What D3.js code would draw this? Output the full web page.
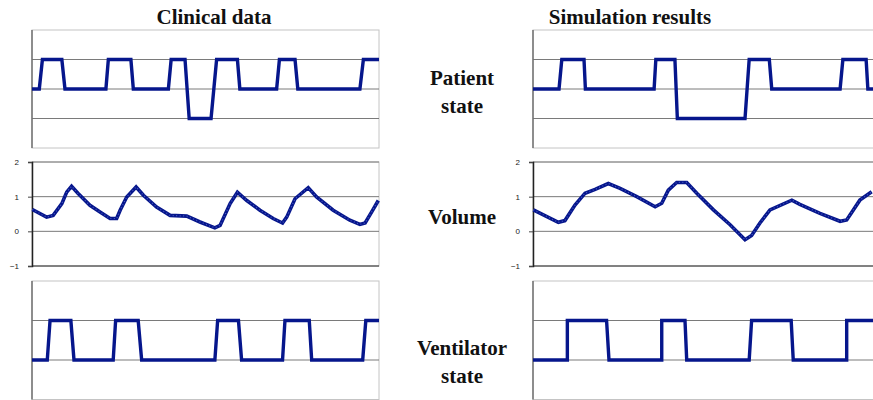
<!DOCTYPE html>
<html>
<head>
<meta charset="utf-8">
<script src="https://cdn.jsdelivr.net/npm/d3@7"></script>
<style>
    body { margin: 0; background: #fff; }
    svg { display: block; }
    .lbl { font-family: "Liberation Serif", "DejaVu Serif", "Times New Roman", serif; }
</style>
</head>
<body>
<script>
// [time, value] pairs, time 0..100 across each panel
const clinicalPatient = [[0, 0], [2.1, 0], [3.0, 1], [8.6, 1], [9.5, 0], [21.3, 0], [22.0, 1], [28.5, 1], [29.2, 0],
    [39.3, 0], [40.1, 1], [44.1, 1], [45.3, -1], [51.6, -1], [53.2, 1], [59.2, 1], [59.9, 0], [70.5, 0], [71.3, 1],
    [75.8, 1], [76.6, 0], [94.5, 0], [95.5, 1], [100, 1]];
const simPatient = [[0, 0], [7.5, 0], [8.3, 1], [14.7, 1], [15.1, 0], [34.9, 0], [35.4, 1], [40.9, 1], [41.6, -1],
    [61.1, -1], [62.3, 1], [68.1, 1], [68.8, 0], [88.5, 0], [89.3, 1], [96.0, 1], [96.5, 0], [100, 0]];

const clinicalVolume = [[0.1, 0.63], [4.2, 0.41], [6.1, 0.46], [8.6, 0.80], [10.0, 1.13], [11.4, 1.30], [13.3, 1.09],
    [16.7, 0.75], [19.6, 0.56], [22.5, 0.37], [24.4, 0.37], [25.4, 0.61], [27.3, 0.99], [30.0, 1.28], [32.1, 1.04],
    [35.9, 0.70], [39.8, 0.46], [44.6, 0.44], [48.4, 0.27], [52.7, 0.10], [54.2, 0.17], [57.1, 0.80], [59.2, 1.13],
    [61.9, 0.89], [65.7, 0.61], [69.5, 0.37], [72.2, 0.24], [73.4, 0.41], [75.8, 0.94], [79.6, 1.26], [82.0, 0.99],
    [86.8, 0.61], [91.6, 0.32], [94.5, 0.20], [96.0, 0.24], [97.9, 0.56], [99.8, 0.89]];
const simVolume = [[0.1, 0.62], [7.3, 0.26], [9.2, 0.31], [12.1, 0.76], [15.0, 1.10], [17.9, 1.21], [21.7, 1.38],
    [25.1, 1.24], [29.9, 1.0], [35.2, 0.71], [37.1, 0.81], [39.0, 1.19], [41.4, 1.41], [44.3, 1.41], [47.2, 1.10],
    [52.0, 0.62], [56.8, 0.19], [61.1, -0.24], [63.0, -0.12], [65.4, 0.24], [68.3, 0.62], [74.6, 0.90], [76.9, 0.78],
    [82.7, 0.52], [88.5, 0.29], [90.4, 0.33], [94.2, 0.90], [97.6, 1.14]];

const clinicalVent = [[0, 0], [4.4, 0], [5.2, 1], [11.2, 1], [12.1, 0], [23.4, 0], [24.1, 1], [30.6, 1], [31.6, 0],
    [52.7, 0], [53.5, 1], [59.5, 1], [60.4, 0], [72.2, 0], [72.9, 1], [79.9, 1], [80.6, 0], [95.3, 0], [96.2, 1], [100, 1]];
const simVent = [[0, 0], [9.9, 0], [9.9, 1], [21.2, 1], [21.9, 0], [37.1, 0], [37.1, 1], [43.8, 1], [44.3, 0],
    [62.3, 0], [63.0, 1], [74.4, 1], [75.0, 0], [90.4, 0], [90.4, 1], [100, 1]];

const columnTitles = ["Clinical data", "Simulation results"];
const rowLabels = [["Patient", "state"], ["Volume"], ["Ventilator", "state"]];
const volumeTicks = [-1, 0, 1, 2];

const width = 873, height = 400;
const lineColor = "#06168c";

const svg = d3.select("body").append("svg")
    .attr("width", width)
    .attr("height", height);

const cols = [[32, 379], [533, 880]];
const rows = [
    { domain: [-2, 2], range: [148, 30], grid: [1, 0, -1], data: [clinicalPatient, simPatient], width: 3.4 },
    { domain: [-1, 2], range: [266, 162], grid: [2, 1, 0], data: [clinicalVolume, simVolume], width: 3.6, axis: true },
    { domain: [-1, 2], range: [399.5, 281], grid: [1, 0], data: [clinicalVent, simVent], width: 3.4 }
];

function Panel(xRange, row, series) {
    const x = d3.scaleLinear().domain([0, 100]).range(xRange);
    const y = d3.scaleLinear().domain(row.domain).range(row.range);
    const g = svg.append("g");

    // frame
    g.append("rect")
        .attr("x", xRange[0])
        .attr("y", row.range[1])
        .attr("width", xRange[1] - xRange[0])
        .attr("height", row.range[0] - row.range[1])
        .attr("fill", "none")
        .attr("stroke", "#c4c4c4")
        .attr("stroke-width", 1);

    g.append("g")
        .selectAll("line")
        .data(row.grid)
        .join("line")
        .attr("x1", xRange[0])
        .attr("x2", xRange[1])
        .attr("y1", d => y(d))
        .attr("y2", d => y(d))
        .attr("stroke", "#7a7a7a")
        .attr("stroke-width", 1);

    if (row.axis) {
        g.append("line")
            .attr("x1", xRange[0]).attr("x2", xRange[1])
            .attr("y1", y(-1)).attr("y2", y(-1))
            .attr("stroke", "#222")
            .attr("stroke-width", 1.2);
        const ax = g.append("g")
            .attr("transform", `translate(${xRange[0]},0)`)
            .call(d3.axisLeft(y).tickValues(volumeTicks).tickSize(4).tickPadding(9).tickFormat(d3.format("d")));
        ax.select(".domain").attr("stroke", "#222").attr("stroke-width", 1.5);
        ax.selectAll(".tick line").attr("stroke", "#444");
        ax.selectAll("text")
            .attr("font-family", "'Liberation Sans', Arial, sans-serif")
            .attr("font-size", 8)
            .attr("fill", "#222");
    } else {
        g.append("line")
            .attr("x1", xRange[0]).attr("x2", xRange[0])
            .attr("y1", row.range[1]).attr("y2", row.range[0])
            .attr("stroke", "#707070")
            .attr("stroke-width", 1.5);
    }

    const line = d3.line()
        .x(d => x(d[0]))
        .y(d => y(d[1]));

    g.append("path")
        .datum(series)
        .attr("d", line)
        .attr("fill", "none")
        .attr("stroke", lineColor)
        .attr("stroke-width", row.width)
        .attr("stroke-linejoin", "miter");

    if (row.axis) {
        // speckled texture of the marker line
        g.append("path")
            .datum(series)
            .attr("d", line)
            .attr("fill", "none")
            .attr("stroke", "#4a5cc4")
            .attr("stroke-width", 1.2)
            .attr("stroke-dasharray", "1,2.5");
    }
}

rows.forEach(row => {
    cols.forEach((c, i) => Panel(c, row, row.data[i]));
});

// titles
svg.append("g")
    .selectAll("text")
    .data(columnTitles)
    .join("text")
    .attr("class", "lbl")
    .attr("x", (d, i) => [214, 630][i])
    .attr("y", 24)
    .attr("text-anchor", "middle")
    .attr("font-weight", "bold")
    .attr("font-size", 21)
    .attr("fill", "#111")
    .text(d => d);

const labelY = [85, 224, 355];
rowLabels.forEach((lines, r) => {
    svg.append("text")
        .attr("class", "lbl")
        .attr("x", 462)
        .attr("y", labelY[r])
        .attr("text-anchor", "middle")
        .attr("font-weight", "bold")
        .attr("font-size", 21)
        .attr("fill", "#111")
        .selectAll("tspan")
        .data(lines)
        .join("tspan")
        .attr("x", 462)
        .attr("dy", (d, i) => i === 0 ? 0 : 28)
        .text(d => d);
});
</script>
</body>
</html>
